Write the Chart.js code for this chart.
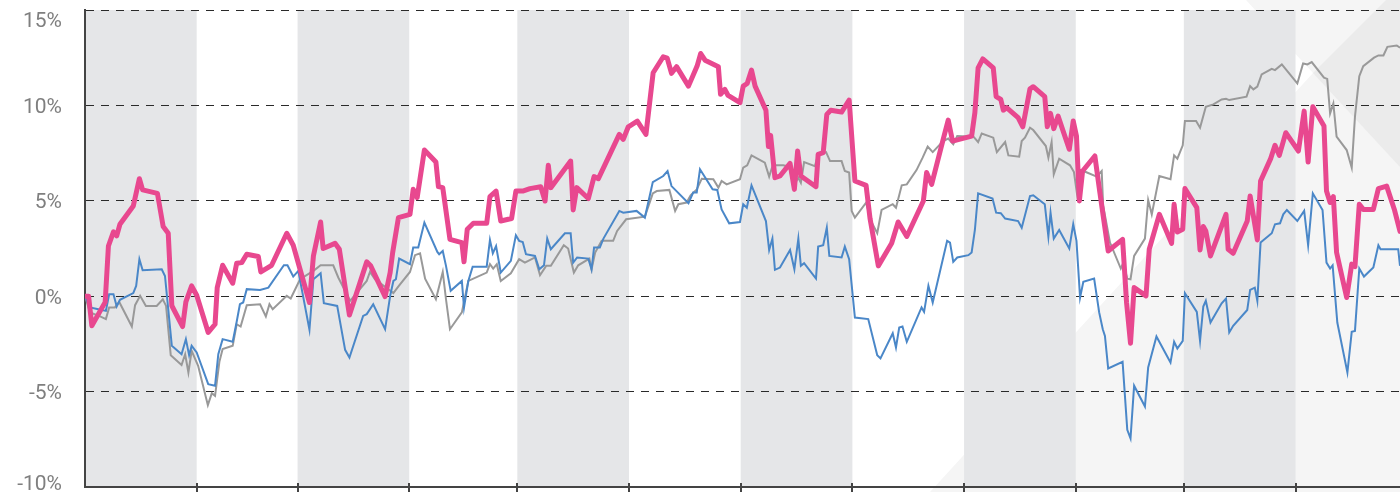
<!DOCTYPE html>
<html>
<head>
<meta charset="utf-8">
<script src="https://cdn.jsdelivr.net/npm/chart.js@4/dist/chart.umd.min.js"></script>
<style>
  html, body { margin: 0; padding: 0; background: #fff; }
  canvas { display: block; }
</style>
</head>
<body>
<canvas id="lineChart" width="1400" height="492"></canvas>
<script>
// eixo x em dias do ano (0 = 1 jan), eixo y em retorno acumulado (%)
var monthStarts = [0, 31, 59, 90, 120, 151, 182, 213, 244, 275, 305, 336, 365];
var yTicks = [15, 10, 5, 0, -5, -10];
var yTickLabels = ["15%", "10%", "5%", "0%", "-5%", "-10%"];

// [dia, %]
var pinkSeries = [[0,0],[1,0],[1.9,-1.55],[5.6,-0.31],[6.5,2.63],[7.9,3.37],[8.8,3.16],[9.7,3.77],[13.4,4.73],[15.1,6.16],[16,5.57],[20.1,5.39],[21.7,3.65],[23.1,3.3],[24.1,-0.5],[27.1,-1.59],[28,-0.3],[29.6,0.54],[31,0.05],[34.2,-1.9],[36.1,-1.47],[36.7,0.45],[38.2,1.62],[41,0.68],[42.1,1.73],[43.5,1.76],[44.9,2.2],[48.1,2.08],[48.8,1.27],[51.8,1.62],[56,3.3],[57.8,2.67],[62.3,-0.33],[63.4,2.11],[65.4,3.89],[66.1,2.5],[69.4,2.77],[70.6,2.46],[73.4,-0.99],[78.2,1.8],[79.3,1.59],[83.3,-0.02],[84.7,1.24],[85.4,2.29],[87,4.12],[90.2,4.29],[91.1,5.6],[92.2,5.17],[94.2,7.66],[97.4,7.03],[98.1,5.74],[99.3,5.69],[101.3,2.98],[104.6,2.81],[105.2,1.8],[106.1,3.51],[107.8,3.82],[111.5,3.82],[112.4,5.22],[114.1,5.51],[115.4,3.94],[118.4,4.07],[119.6,5.51],[121.5,5.51],[123.5,5.64],[126.5,5.74],[127.7,4.99],[128.6,6.86],[129.3,5.69],[134.8,7.08],[135.5,4.52],[136.5,5.69],[139.7,5.12],[141.3,6.27],[142.5,6.16],[148.3,8.48],[149.4,8.22],[150.8,8.88],[153.3,9.18],[155.7,8.48],[157.7,11.71],[160.5,12.55],[161.6,12.48],[162.8,11.68],[164.2,12.03],[167.5,11.01],[169.9,12.06],[170.9,12.72],[172.1,12.37],[175.8,12.03],[176.4,10.58],[177.6,10.84],[178.5,10.52],[181.8,10.14],[182.7,11.01],[183.8,11.15],[185,11.85],[186,11.01],[189,9.75],[189.7,7.84],[190.3,8.43],[191.5,6.21],[192.9,6.3],[195.7,6.96],[196.9,5.6],[197.8,7.61],[198.7,6.3],[202.9,5.74],[203.5,7.43],[204.9,7.52],[205.9,9.53],[207,9.75],[210,9.65],[212.1,10.28],[213.7,6.04],[216.8,5.81],[217.9,4.07],[220.2,1.59],[223.9,2.77],[225.7,3.89],[228.1,3.13],[232.7,4.99],[233.6,6.48],[235,5.86],[238.2,8.22],[239.6,9.23],[240.8,8.13],[246.1,8.39],[247,9.62],[247.9,11.97],[249.2,12.44],[252.1,11.97],[252.9,10.46],[254.2,10.31],[254.9,9.75],[255.8,9.88],[259,9.36],[260.3,8.88],[262.3,10.87],[263.2,10.98],[266.4,10.46],[267.1,8.88],[268,9.58],[268.9,8.78],[270.1,9.44],[273.2,7.7],[274.3,9.18],[275.2,8.39],[276,4.99],[276.9,6.56],[280.3,7.35],[281.7,5.43],[284,2.37],[288,2.98],[289.1,-0.33],[290.2,-2.46],[291.2,0.45],[294.5,0.02],[295.4,2.46],[298.2,4.29],[301.6,2.77],[302.3,4.82],[303.2,3.37],[304.7,3.51],[305.3,5.64],[308.6,4.64],[309.5,2.42],[310.4,3.65],[311.1,3.42],[312.4,2.11],[316.7,4.29],[317.3,2.46],[318.7,2.25],[322.6,3.94],[323.4,5.25],[325.4,2.95],[326.3,6.04],[329.1,7.21],[330.3,7.91],[331.5,7.38],[333.3,8.57],[336.8,7.61],[338.4,9.7],[339.5,7.03],[340.8,9.93],[343.9,8.92],[344.6,5.51],[345.6,4.91],[346.5,5.22],[347.4,2.29],[350.2,-0.07],[351.6,1.68],[352.5,1.55],[353.7,4.82],[354.8,4.55],[357.6,4.55],[359,5.64],[361.3,5.77],[363.5,4.5],[365,3.4]];

var blueSeries = [[0,0],[1.4,-0.59],[3.7,-0.68],[5.8,-0.77],[6.7,0.1],[7.9,0.1],[8.8,-0.54],[9.7,-0.19],[13.4,0.16],[14.2,0.54],[15.1,1.94],[16,1.36],[21.3,1.41],[22.2,1.06],[24.1,-2.6],[26.8,-3.04],[28,-2.25],[28.9,-3.09],[29.6,-2.6],[31,-2.95],[34.2,-4.61],[36.1,-4.69],[37,-3.04],[38.2,-2.25],[41,-2.39],[42.1,-1.34],[43,-0.42],[43.9,-0.33],[44.9,0.37],[48.6,0.33],[50.9,0.45],[55.2,1.62],[56.2,1.62],[57.8,1.03],[59.2,1.33],[62.3,-1.76],[63.4,0.89],[65.4,1.2],[66.3,-0.37],[70,-0.51],[72.2,-2.81],[73.4,-3.21],[77.2,-1.03],[78.2,-0.94],[80,-0.42],[83.3,-1.73],[84.7,0.02],[85.6,0.8],[86.3,0.89],[87.2,1.97],[90.2,1.68],[91.1,2.55],[92.5,2.55],[94.2,3.86],[97.8,2.32],[98.3,2.2],[99.3,2.37],[100.2,1.59],[101.5,0.28],[104.6,0.8],[105.2,-0.59],[106.4,0.8],[107.6,1.55],[111.5,1.55],[112.4,2.95],[113.2,2.25],[114.1,2.63],[115.4,1.24],[118.2,1.85],[119.6,3.19],[120.5,2.9],[121.5,2.84],[122.4,2.2],[124.9,2.11],[126.1,1.41],[127.4,1.62],[128.3,3.02],[129.3,2.46],[133.2,3.3],[134.8,3.3],[135.5,1.76],[136.6,2.03],[139.7,1.97],[140.6,1.41],[141.3,2.55],[142.9,2.55],[143.9,3.02],[148.3,4.47],[149.4,4.38],[153.1,4.47],[155.4,4.12],[157.6,5.98],[160.5,6.3],[161.7,6.56],[162.8,5.77],[167.5,4.87],[168.8,5.43],[169.8,5.43],[170.7,6.65],[174.2,5.6],[175.5,5.57],[176.7,4.55],[178.8,3.82],[181.8,3.89],[182.7,4.82],[183.7,4.64],[185,5.81],[189,3.94],[189.9,2.42],[190.8,3.02],[191.5,1.38],[192.9,1.5],[195.7,2.42],[196.9,1.41],[198,3.02],[198.7,1.59],[199.6,1.73],[202.9,0.92],[203.5,2.6],[204.9,2.67],[205.9,3.59],[206.6,2.11],[210,2.03],[210.9,2.6],[212.1,1.94],[213.7,-1.12],[217.4,-1.2],[219.9,-3.09],[220.8,-3.26],[224.2,-1.94],[225.1,-2.69],[226,-1.64],[226.9,-1.59],[228.1,-2.39],[232.2,-0.59],[232.9,-0.82],[234.1,0.54],[235.3,-0.33],[239.3,2.9],[240.1,2.81],[241,1.8],[242.1,2.03],[245.2,2.15],[246.1,2.29],[247,3.47],[247.9,5.39],[251.9,5.12],[252.9,4.38],[254.2,4.35],[255.4,4.07],[259,3.94],[260,3.59],[262.3,5.25],[263.2,5.29],[266.4,4.82],[267.4,3.13],[268,4.38],[268.9,3.02],[270.4,3.47],[273.2,2.5],[274.3,3.77],[275.2,2.9],[276.2,-0.07],[277.1,0.75],[280.1,0.92],[281.5,-0.85],[282.5,-1.73],[283.1,-2.08],[284,-3.79],[288,-3.44],[289.3,-7.0],[290.2,-7.45],[291.2,-4.69],[294.2,-5.78],[295.1,-3.73],[297.4,-2.11],[301.3,-3.47],[302.3,-2.39],[303.2,-2.74],[304.7,-2.34],[305.3,0.16],[308.6,-0.82],[309.5,-2.34],[310.4,-0.54],[311.1,-0.24],[312.4,-1.38],[315.5,-0.37],[316.7,-0.12],[317.6,-1.9],[318.7,-1.55],[322.6,-0.72],[323.4,0.33],[324.7,0.45],[325.4,-0.24],[326.3,2.81],[329.4,3.3],[330.3,3.77],[331.7,3.82],[332.6,4.29],[333.6,4.52],[336.5,3.94],[338.4,4.47],[339.5,2.67],[340.8,5.39],[343.5,4.52],[344.6,1.76],[345.6,1.45],[346.3,1.62],[347.6,-1.38],[350.4,-4.0],[351.6,-1.87],[352.5,-1.82],[353.7,1.45],[355,1.03],[357.6,1.5],[359,2.67],[359.6,2.46],[364.5,2.46],[365,1.59]];

var graySeries = [[0,0],[1.4,-0.85],[4.2,-1.06],[5.8,-1.2],[6.7,-0.59],[8.3,-0.59],[9.5,-0.3],[13,-1.59],[13.9,-0.47],[15.3,0.02],[16.9,-0.51],[19.9,-0.51],[21.6,-0.16],[22.5,-0.51],[23.8,-3.09],[26.8,-3.61],[27.8,-3.04],[28.7,-4.0],[29.6,-2.86],[31.4,-3.65],[34.1,-5.71],[35.2,-5.08],[36.1,-5.22],[37.3,-3.44],[38.2,-2.77],[41,-2.6],[42.1,-1.47],[43.2,-1.59],[44.9,-0.47],[48.6,-0.42],[50.2,-1.06],[51.2,-0.42],[52.1,-0.68],[56,0.02],[57.1,-0.12],[59.7,0.89],[63.4,1.33],[65.4,1.62],[68.9,1.62],[70.3,0.98],[73.6,-0.24],[78.2,0.8],[79.1,1.27],[80.5,0.89],[85.6,0.16],[87,0.51],[90.2,1.27],[91.6,2.15],[93,2.25],[94.4,0.92],[97.4,-0.16],[99.3,1.27],[100.2,-0.16],[101.3,-1.73],[104.6,-0.85],[106.4,0.8],[111.5,1.24],[112.4,1.68],[113.3,1.45],[114.3,1.68],[115.4,0.8],[118.2,1.2],[120.5,1.94],[122.1,1.76],[124.9,2.03],[126.3,1.1],[128,1.59],[129.3,1.59],[132.9,2.67],[134.1,2.5],[135.7,1.24],[136.9,1.62],[140,1.97],[140.6,1.41],[141.6,2.29],[143.4,2.9],[146.6,2.9],[147.7,3.42],[150.2,4.03],[155.4,4.17],[157.6,5.39],[158.7,5.51],[162.2,5.57],[163.8,4.47],[164.7,4.82],[167,4.91],[168.1,5.29],[169.8,5.6],[171.2,6.16],[174.4,6.13],[175.8,5.69],[176.7,6.04],[178.1,5.86],[181.8,6.13],[182.7,6.74],[183.8,6.86],[185,7.38],[188.7,7.0],[189.9,6.27],[190.9,6.86],[193.8,6.86],[195.5,6.79],[196.6,5.77],[198,6.21],[198.7,5.95],[199.6,7.03],[202.6,6.82],[203.5,7.43],[205.7,7.55],[206.8,7.08],[210,7.08],[210.9,6.56],[212.1,6.48],[212.8,4.47],[213.7,4.12],[216.8,4.9],[218.3,3.89],[219.9,3.3],[221.1,4.52],[224.2,4.82],[225.1,4.64],[226.7,5.81],[228.1,5.86],[230.8,6.61],[232.5,7.26],[233.9,7.84],[235.3,7.55],[238.2,8.13],[239.6,8.26],[241,7.96],[242.1,8.39],[246.6,8.36],[247.9,8.08],[248.9,8.53],[252.1,8.31],[253.1,7.55],[255.4,8.08],[256.3,7.38],[259.3,7.31],[260,8.13],[260.9,8.31],[262.3,8.83],[263.2,8.71],[266.7,7.87],[267.4,7.26],[268.3,8.08],[268.9,6.39],[270.4,7.21],[273.4,6.86],[274.5,6.51],[275.4,5.29],[276.4,6.61],[277.8,6.51],[280.8,6.27],[282.2,6.56],[282.6,4.76],[284.5,2.81],[287.5,1.45],[288.2,1.76],[289.3,0.92],[290.2,0.89],[291.2,2.11],[294.2,3.02],[295.1,5.04],[296.1,4.29],[298.2,6.3],[301.3,6.13],[302.3,7.38],[303.2,7.21],[304.7,7.91],[305.3,9.18],[308.4,9.18],[309.5,8.83],[311.1,9.93],[313.2,10.05],[315.5,10.31],[316.7,10.35],[317.6,10.28],[322.4,10.46],[323.4,11.01],[324.3,10.84],[325.4,10.98],[326.6,11.62],[329.4,11.92],[330.3,11.85],[332.2,12.15],[336.5,11.15],[338.1,12.2],[339.3,12.15],[340.5,12.27],[343.9,11.45],[344.8,11.39],[345.6,9.58],[346.5,10.1],[347.4,8.36],[350.2,7.66],[351.6,6.74],[352.5,9.41],[353.7,11.53],[354.8,12.06],[357.8,12.5],[359,12.62],[360.4,12.62],[361.5,13.07],[364.1,13.14],[365,13.02]];

function toPoints(series) {
    return series.map(function (p) { return {x: p[0], y: p[1]}; });
}

// faixas dos meses, marca d'agua, ticks do eixo x e rotulos do eixo y
var backdrop = {
    id: 'backdrop',
    beforeDraw: function (chart) {
        var ctx = chart.ctx, a = chart.chartArea, xs = chart.scales.x;
        var W = chart.width, H = chart.height;
        ctx.save();
        ctx.fillStyle = '#f5f5f5';
        ctx.beginPath();
        ctx.moveTo(1246, 0);
        ctx.lineTo(1313, 73);
        ctx.lineTo(930, 492);
        ctx.lineTo(W, H);
        ctx.lineTo(W, 0);
        ctx.closePath();
        ctx.fill();
        ctx.fillStyle = '#ebebeb';
        ctx.beginPath();
        ctx.moveTo(1386, 0);
        ctx.lineTo(1313, 73);
        ctx.lineTo(W, 167);
        ctx.lineTo(W, 0);
        ctx.closePath();
        ctx.fill();

        ctx.fillStyle = '#e5e6e8';
        for (var i = 0; i < monthStarts.length - 1; i += 2) {
            var x0 = xs.getPixelForValue(monthStarts[i]);
            var x1 = xs.getPixelForValue(monthStarts[i + 1]);
            ctx.fillRect(x0, a.top, x1 - x0, a.bottom - a.top);
        }
        ctx.restore();
    },
    afterDraw: function (chart) {
        var ctx = chart.ctx, a = chart.chartArea, xs = chart.scales.x, ys = chart.scales.y;
        ctx.save();
        ctx.strokeStyle = '#444';
        ctx.lineWidth = 2;
        for (var i = 1; i < monthStarts.length - 1; i++) {
            var x = Math.round(xs.getPixelForValue(monthStarts[i]));
            ctx.beginPath();
            ctx.moveTo(x, a.bottom - 4);
            ctx.lineTo(x, a.bottom + 5);
            ctx.stroke();
        }
        ctx.font = '21px Roboto';
        ctx.fillStyle = '#7f7f7f';
        ctx.textAlign = 'right';
        ctx.textBaseline = 'alphabetic';
        yTicks.forEach(function (v, i) {
            var y = ys.getPixelForValue(v) + 7.5;
            if (i === 0) y += 9.5;
            if (i === yTicks.length - 1) y -= 4.5;
            ctx.fillText(yTickLabels[i], a.left - 23, y);
        });
        ctx.restore();
    }
};

var lineData = {
    datasets: [
        {
            label: "Rosa",
            data: toPoints(pinkSeries),
            borderColor: "#e8488f",
            borderWidth: 5,
            borderJoinStyle: 'round',
            borderCapStyle: 'round'
        },
        {
            label: "Azul",
            data: toPoints(blueSeries),
            borderColor: "#4a87c8",
            borderWidth: 2
        },
        {
            label: "Cinza",
            data: toPoints(graySeries),
            borderColor: "#999999",
            borderWidth: 2
        }
    ]
};

var lineOptions = {
    responsive: false,
    animation: false,
    devicePixelRatio: 1,
    layout: {padding: {top: 10, right: 0, bottom: 0, left: 0}},
    elements: {point: {radius: 0}, line: {tension: 0, fill: false}},
    plugins: {legend: {display: false}, tooltip: {enabled: false}},
    scales: {
        x: {
            type: 'linear',
            min: 0,
            max: 365,
            grid: {display: false},
            ticks: {display: false},
            border: {display: true, color: '#444', width: 2},
            afterFit: function (scale) { scale.height = 5; }
        },
        y: {
            min: -10,
            max: 15,
            ticks: {display: false, stepSize: 5},
            grid: {color: '#2a2a2a', lineWidth: 1, drawTicks: false},
            border: {display: true, color: '#444', width: 2, dash: [8, 7]},
            afterFit: function (scale) { scale.width = 85; }
        }
    }
};

var ctx = document.getElementById("lineChart").getContext("2d");
new Chart(ctx, {type: 'line', data: lineData, options: lineOptions, plugins: [backdrop]});
</script>
</body>
</html>
